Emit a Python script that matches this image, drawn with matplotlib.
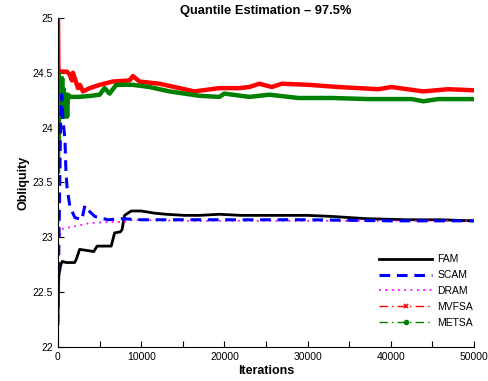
import matplotlib.pyplot as plt
from matplotlib.lines import Line2D
from matplotlib.ticker import FixedLocator, FuncFormatter

plt.rcParams["font.family"] = ["Liberation Sans", "DejaVu Sans"]

# FAM (black)
fam_it = [0, 100, 300, 500, 1000, 2000, 2200, 2600, 3500, 4300, 4700, 5500, 6400,
          6800, 7500, 7700, 8000, 8800, 10000, 11600, 13000, 15200, 17000, 19400,
          22000, 25000, 30000, 33000, 37000, 42000, 46000, 50000]
fam_val = [22.3, 22.65, 22.74, 22.78, 22.77, 22.77, 22.8, 22.89, 22.88, 22.87, 22.92,
           22.92, 22.92, 23.04, 23.05, 23.07, 23.20, 23.24, 23.24, 23.22, 23.21, 23.20,
           23.20, 23.21, 23.20, 23.20, 23.20, 23.19, 23.17, 23.16, 23.16, 23.15]

# SCAM (blue dashed)
scam_it = [0, 100, 200, 300, 450, 600, 840, 950, 1080, 1430, 2030, 2870, 3230, 3590,
           4430, 6000, 7650, 10000, 15000, 20000, 30000, 40000, 50000]
scam_val = [22.2, 22.9, 23.4, 24.0, 24.3, 24.07, 23.89, 23.61, 23.46, 23.28, 23.18,
            23.16, 23.29, 23.25, 23.19, 23.16, 23.17, 23.16, 23.16, 23.16, 23.16,
            23.15, 23.15]

# DRAM (magenta dotted)
dram_it = [0, 50, 150, 600, 2000, 3800, 6200, 7800, 9000, 15000, 25000, 35000, 50000]
dram_val = [23.5, 23.3, 23.0, 23.08, 23.10, 23.13, 23.14, 23.14, 23.16, 23.15, 23.15,
            23.15, 23.15]

# MVFSA (red)
mvfsa_it = [0, 50, 240, 1080, 1430, 1670, 1800, 2400, 2630, 3000, 3830, 5020, 6580,
            8600, 9000, 9800, 12200, 14600, 16400, 19400, 21800, 23000, 24200, 25700,
            26900, 30100, 33700, 38500, 40100, 43900, 46900, 50000]
mvfsa_val = [25.0, 24.5, 24.51, 24.51, 24.48, 24.43, 24.5, 24.36, 24.39, 24.33, 24.36,
             24.39, 24.42, 24.43, 24.47, 24.42, 24.40, 24.36, 24.33, 24.36, 24.36,
             24.37, 24.40, 24.37, 24.40, 24.39, 24.37, 24.35, 24.37, 24.33, 24.35, 24.34]

# METSA (green)
metsa_it = [0, 50, 100, 150, 200, 300, 400, 500, 600, 700, 800, 1000, 1100, 1200,
            1500, 2500, 4000, 5000, 5600, 6200, 7000, 9000, 11000, 13400, 17000, 19400,
            20000, 23000, 25400, 28900, 33000, 37300, 42500, 43900, 45700, 50000]
metsa_val = [23.6, 24.5, 23.9, 24.45, 24.1, 24.4, 24.1, 24.45, 24.1, 24.35, 24.1, 24.3,
             24.1, 24.3, 24.28, 24.28, 24.29, 24.30, 24.36, 24.31, 24.39, 24.39, 24.37,
             24.33, 24.29, 24.28, 24.31, 24.28, 24.30, 24.27, 24.27, 24.26, 24.26,
             24.24, 24.26, 24.26]

labels = ["FAM", "SCAM", "DRAM", "MVFSA", "METSA"]

fig = plt.figure(figsize=(4.89, 3.81), dpi=100)
ax = fig.add_axes([0.1186, 0.0892, 0.8507, 0.8638])

ax.plot(mvfsa_it, mvfsa_val, color="red", lw=3.2)
ax.plot(metsa_it, metsa_val, color="green", lw=3.2)
ax.plot(fam_it, fam_val, color="black", lw=2)
ax.plot(dram_it, dram_val, color="magenta", lw=1.3, ls=(0, (1, 2.5)))
ax.plot(scam_it, scam_val, color="blue", lw=2.2, ls=(0, (3.5, 2.2)))

ax.set_xlim(0, 50000)
ax.set_ylim(22, 25)
ax.xaxis.set_major_locator(FixedLocator(range(0, 50001, 5000)))
ax.xaxis.set_major_formatter(FuncFormatter(lambda v, p: "%d" % v if v % 10000 == 0 else ""))
ax.set_yticks([22, 22.5, 23, 23.5, 24, 24.5, 25])
ax.set_yticklabels(["22", "22.5", "23", "23.5", "24", "24.5", "25"])
ax.tick_params(direction="in", length=4, labelsize=7.5)
for s in ["top", "right"]:
    ax.spines[s].set_visible(False)

ax.set_title("Quantile Estimation \u2013 97.5%", fontsize=9.3, fontweight="bold", pad=2.5)
ax.set_xlabel("Iterations", fontsize=9, fontweight="bold", labelpad=2)
ax.set_ylabel("Obliquity", fontsize=9, fontweight="bold", labelpad=2)

# legend keys show the original line styles
handles = [
    Line2D([], [], color="black", lw=2),
    Line2D([], [], color="blue", lw=2.2, ls=(0, (3.5, 2.2))),
    Line2D([], [], color="magenta", lw=1.3, ls=(0, (1, 2.5))),
    Line2D([], [], color="red", lw=1, ls=(0, (6, 3, 1, 3)), marker="x",
           markersize=3, markeredgewidth=1.2),
    Line2D([], [], color="green", lw=1, ls=(0, (6, 3, 1, 3)), marker=".",
           markersize=6),
]
ax.legend(handles, labels, loc="lower right", frameon=False, fontsize=7.5,
          handlelength=5.1, handletextpad=0.5, labelspacing=0.56, borderaxespad=0,
          numpoints=1, bbox_to_anchor=(1.008, 0.046))

fig.savefig("out.png", dpi=100)
